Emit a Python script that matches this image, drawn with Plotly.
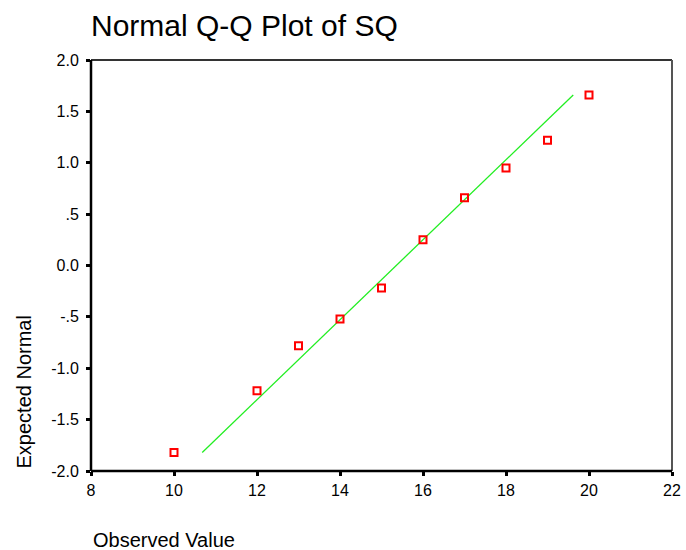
import plotly.graph_objects as go

# Data
observed = [10, 12, 13, 14, 15, 16, 17, 18, 19, 20]
expected = [-1.82, -1.22, -0.78, -0.52, -0.22, 0.25, 0.66, 0.95, 1.22, 1.66]
line_x = [10.68, 19.62]
line_y = [-1.82, 1.66]
x_ticks = [8, 10, 12, 14, 16, 18, 20, 22]
y_ticks = [2.0, 1.5, 1.0, 0.5, 0.0, -0.5, -1.0, -1.5, -2.0]
y_tick_labels = ["2.0", "1.5", "1.0", ".5", "0.0", "-.5", "-1.0", "-1.5", "-2.0"]

FONT = "Liberation Sans, Arial, sans-serif"

fig = go.Figure()
fig.add_trace(go.Scatter(x=line_x, y=line_y, mode="lines",
                         line=dict(color="#22ee22", width=1.3),
                         hoverinfo="skip", showlegend=False))
fig.add_trace(go.Scatter(x=observed, y=expected, mode="markers",
                         marker=dict(symbol="square-open", size=7, color="#ff0000",
                                     line=dict(width=2, color="#ff0000")),
                         showlegend=False))

fig.update_layout(
    width=686, height=550,
    margin=dict(l=91, r=14, t=60, b=79, autoexpand=False),
    paper_bgcolor="white", plot_bgcolor="white",
    font=dict(family=FONT, color="black", size=16),
    title=dict(text="Normal Q-Q Plot of SQ", x=91/686, xanchor="left",
               y=1 - 25/550, yanchor="middle",
               font=dict(family=FONT, size=30, color="black")),
    xaxis=dict(range=[8, 22], tickvals=x_ticks, ticks="outside", ticklen=4,
               tickwidth=3, tickcolor="black", showgrid=False, zeroline=False,
               showline=False, tickfont=dict(size=16), ticklabelstandoff=1,
               automargin=False),
    yaxis=dict(range=[-2.0, 2.0], tickvals=y_ticks, ticktext=y_tick_labels,
               ticks="outside", ticklen=4, tickwidth=3, tickcolor="black",
               showgrid=False, zeroline=False, showline=False,
               tickfont=dict(size=16), ticklabelstandoff=4, automargin=False),
    shapes=[
        dict(type="line", xref="paper", yref="paper", x0=0, x1=1, y0=1, y1=1,
             line=dict(color="#333333", width=2)),
        dict(type="line", xref="paper", yref="paper", x0=1, x1=1, y0=0, y1=1,
             line=dict(color="#555555", width=2)),
        dict(type="line", xref="paper", yref="paper", x0=0, x1=1, y0=0, y1=0,
             line=dict(color="black", width=2.5)),
        dict(type="line", xref="paper", yref="paper", x0=0, x1=0, y0=0, y1=1,
             line=dict(color="black", width=2.5)),
    ],
    annotations=[
        dict(text="Expected Normal", xref="paper", yref="paper",
             x=-68/581, y=0, xanchor="center", yanchor="bottom", textangle=-90,
             showarrow=False, font=dict(family=FONT, size=20, color="black")),
        dict(text="Observed Value", xref="paper", yref="paper",
             x=0, y=-69/411, xanchor="left", yanchor="middle",
             showarrow=False, font=dict(family=FONT, size=20, color="black")),
    ],
)

fig.write_html("out.html", config={"displayModeBar": False},
               post_script="document.body.style.margin='0px';")
